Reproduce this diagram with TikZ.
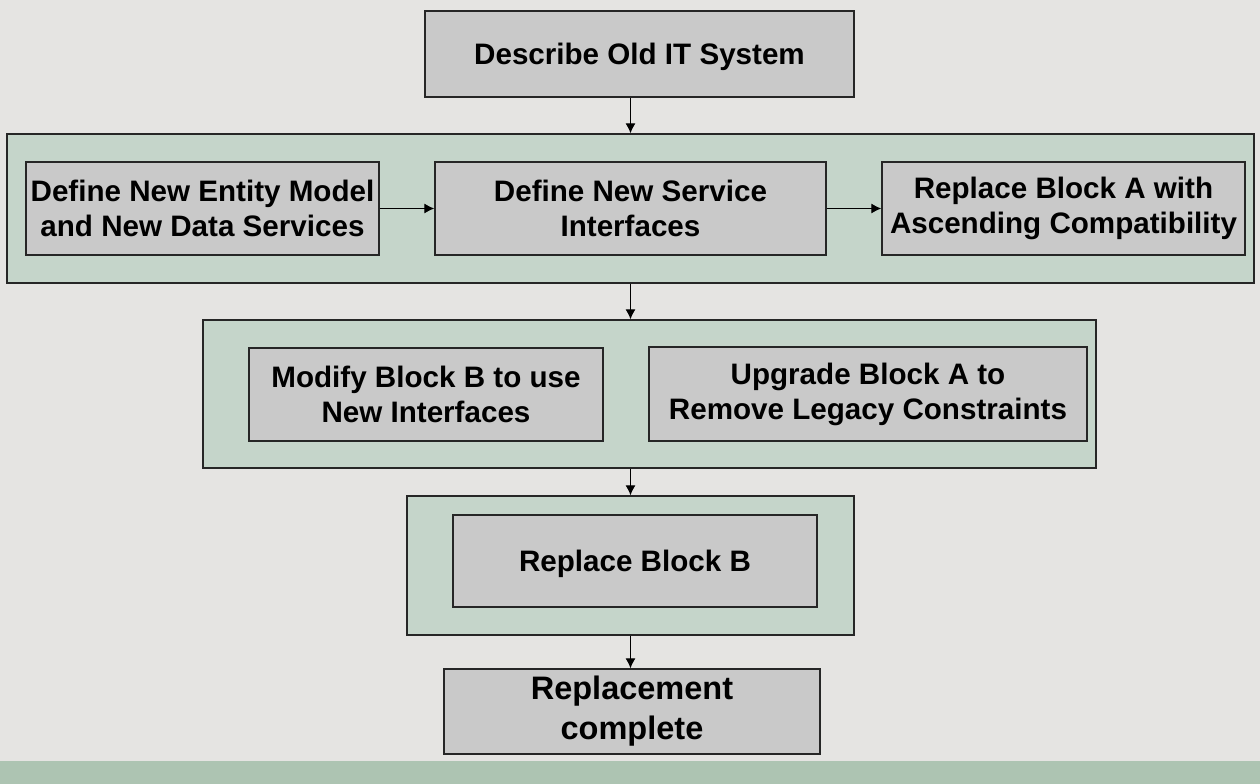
\documentclass[tikz,border=0pt]{standalone}
\usepackage{fontspec}
\setmainfont{Liberation Sans}
\usetikzlibrary{arrows.meta}
\definecolor{pagebg}{HTML}{E5E4E2}
\definecolor{stripbg}{HTML}{ADC4B2}
\definecolor{groupbg}{HTML}{C5D5CA}
\definecolor{stepbg}{HTML}{C9C9C9}
\tikzset{
  groupbox/.style={draw=black!85, line width=1.3bp, fill=groupbg, inner sep=0pt},
  stepbox/.style={draw=black!85, line width=1.3bp, fill=stepbg, inner sep=0pt,
    align=center, font=\bfseries\fontsize{29.6bp}{35bp}\selectfont},
  oneline/.style={text height=21bp, text depth=0pt},
  bigstep/.style={stepbox, font=\bfseries\fontsize{32.5bp}{40bp}\selectfont},
  flow/.style={line width=1.2bp, -{Latex[length=10bp,width=10bp]}}
}
\begin{document}
\begin{tikzpicture}[x=1bp,y=-1bp]
  % canvas and bottom strip
  \fill[pagebg] (0,0) rectangle (1260,784);
  \fill[stripbg] (0,761) rectangle (1260,784);
  \useasboundingbox (0,0) rectangle (1260,784);

  % first step
  \node[stepbox, oneline, minimum width=429bp, minimum height=86bp] (old) at (639.5,54) {Describe Old IT System};

  % group 1
  \node[groupbox, minimum width=1247bp, minimum height=149bp] (g1) at (630.5,208.5) {};
  \node[stepbox, minimum width=353bp, minimum height=93bp] (entity) at (202.5,208.5)
    {Define New Entity Model\\and New Data Services};
  \node[stepbox, minimum width=391bp, minimum height=93bp] (iface) at (630.5,208.5)
    {Define New Service\\Interfaces};
  \node[stepbox, minimum width=363bp, minimum height=93bp] (repA) at (1063.5,208.5)
    {Replace Block A with\\Ascending Compatibility};

  % group 2
  \node[groupbox, minimum width=893bp, minimum height=148bp] (g2) at (649.5,394) {};
  \node[stepbox, minimum width=354bp, minimum height=93bp] (modB) at (426,394.5)
    {Modify Block B to use\\New Interfaces};
  \node[stepbox, minimum width=438bp, minimum height=94bp] (upA) at (868,394)
    {Upgrade Block A to\\Remove Legacy Constraints};

  % group 3
  \node[groupbox, minimum width=447bp, minimum height=139bp] (g3) at (630.5,565.5) {};
  \node[stepbox, oneline, minimum width=364bp, minimum height=92bp] (repB) at (635,561)
    {Replace Block B};

  % final step
  \node[bigstep, minimum width=376bp, minimum height=85bp] (done) at (632,711.5)
    {Replacement\\complete};

  % connectors
  \draw[flow] (old.south -| g1.north) -- (g1.north);
  \draw[flow] (entity.east) -- (iface.west);
  \draw[flow] (iface.east) -- (repA.west);
  \draw[flow] (g1.south) -- (g1.south |- g2.north);
  \draw[flow] (g3.north |- g2.south) -- (g3.north);
  \draw[flow] (g3.south) -- (g3.south |- done.north);
\end{tikzpicture}
\end{document}
